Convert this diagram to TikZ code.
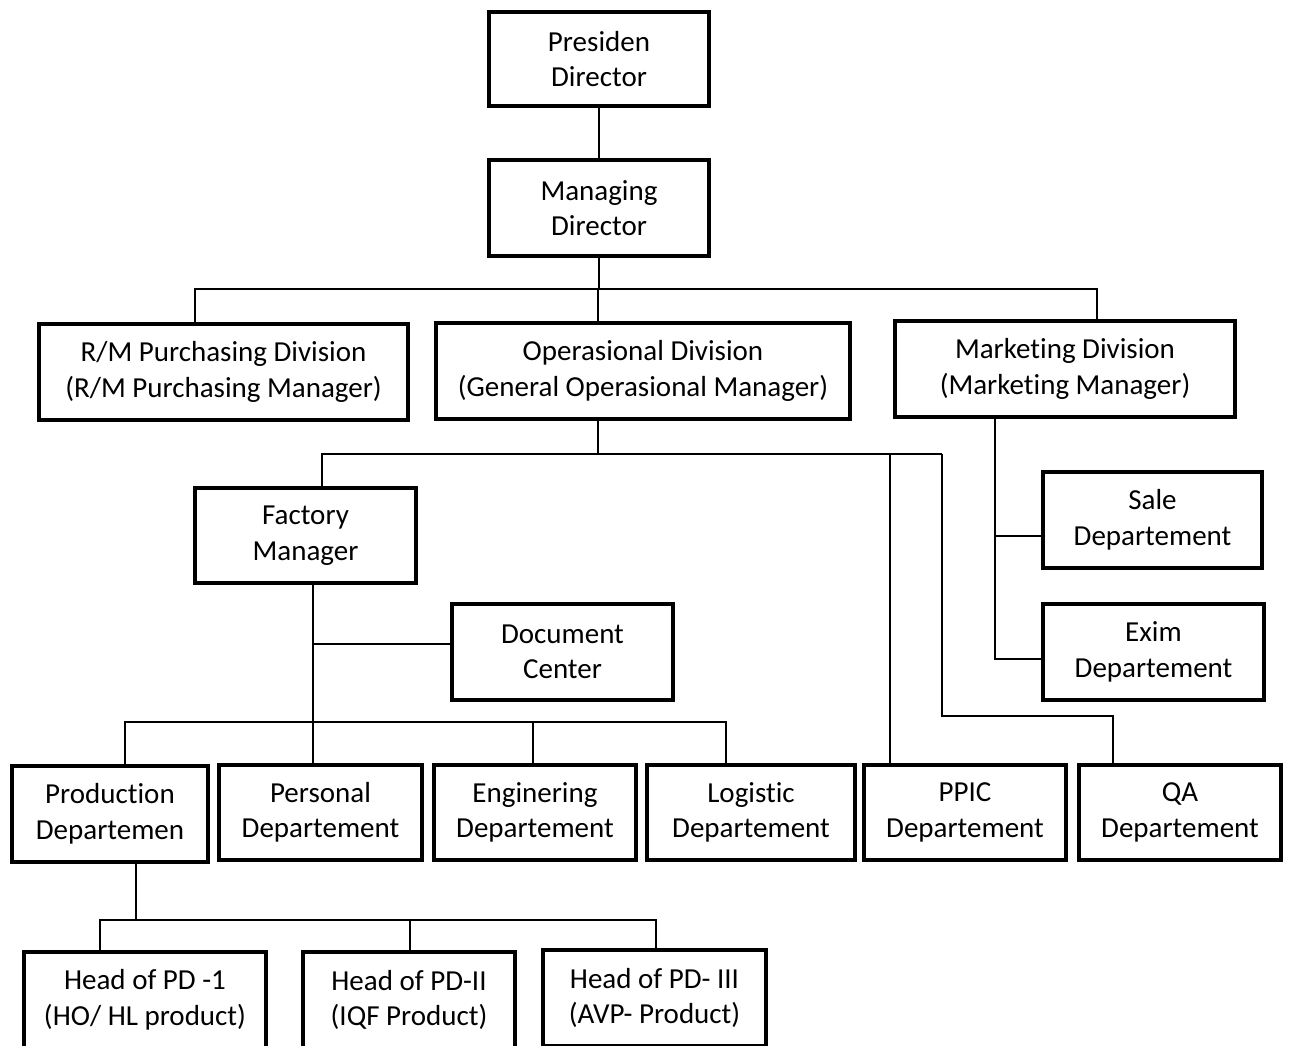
\documentclass[tikz,border=0pt]{standalone}
\usepackage{fontspec}
\setmainfont{Carlito}[Ligatures={NoCommon,NoContextual}]
\begin{document}
\begin{tikzpicture}[x=1pt,y=-1pt,
  box/.style={draw=black,line width=3.8pt,fill=white,align=center,inner sep=0pt,
    font=\fontsize{29}{35.5}\selectfont},
  conn/.style={line width=1.6pt,draw=black}]
\useasboundingbox (0,0) rectangle (1291,1046);
\clip (0,0) rectangle (1291,1046);
% boxes
\node[box,minimum width=220,minimum height=94] (pres) at (599,59) {Presiden\\Director};
\node[box,minimum width=220,minimum height=96] (mgr) at (599,208) {Managing\\Director};
\node[box,minimum width=369,minimum height=96] (rm) at (223.5,372) {R/M Purchasing Division\\(R/M Purchasing Manager)};
\node[box,minimum width=414,minimum height=96] (op) at (643,371) {Operasional Division\\(General Operasional Manager)};
\node[box,minimum width=340,minimum height=96] (mkt) at (1065,369) {Marketing Division\\(Marketing Manager)};
\node[box,minimum width=221,minimum height=95] (fac) at (305.5,535.5) {Factory\\Manager};
\node[box,minimum width=221,minimum height=96] (doc) at (562.5,652) {Document\\Center};
\node[box,minimum width=219,minimum height=96] (sale) at (1152.5,520) {Sale\\Departement};
\node[box,minimum width=221,minimum height=96] (exim) at (1153.5,652) {Exim\\Departement};
\node[box,minimum width=196,minimum height=96] (prod) at (110,814) {Production\\Departemen};
\node[box,minimum width=203,minimum height=95] (pers) at (320.5,812.5) {Personal\\Departement};
\node[box,minimum width=202,minimum height=95] (eng) at (535,812.5) {Enginering\\Departement};
\node[box,minimum width=208,minimum height=95] (log) at (751,812.5) {Logistic\\Departement};
\node[box,minimum width=202,minimum height=95] (ppic) at (965,812.5) {PPIC\\Departement};
\node[box,minimum width=202,minimum height=95] (qa) at (1180,812.5) {QA\\Departement};
\node[box,minimum width=242,minimum height=96] (h1) at (145,1000) {Head of PD -1\\(HO/ HL product)};
\node[box,minimum width=212,minimum height=96] (h2) at (409,1000) {Head of PD-II\\(IQF Product)};
\node[box,minimum width=223,minimum height=96] (h3) at (654.5,998) {Head of PD- III\\(AVP- Product)};
% connectors top
\draw[conn] (pres.south) -- (mgr.north);
\coordinate (b1) at (598,289);
\coordinate (rmTop) at ([xshift=-28.5pt]rm.north);
\coordinate (mkTop) at ([xshift=32pt]mkt.north);
\draw[conn] (rmTop) |- (b1) -| (mkTop);
\draw[conn] (mgr.south) -- (mgr.south |- b1);
\draw[conn] (b1) -- (b1 |- op.north);
% operasional bus
\coordinate (opBot) at ([xshift=-45pt]op.south);
\coordinate (b2) at (598,454);
\coordinate (b3) at (942,454);
\coordinate (b4) at (942,716);
\coordinate (facTop) at ([xshift=16.5pt]fac.north);
\coordinate (ppicTop) at ([xshift=-75pt]ppic.north);
\coordinate (qaTop) at ([xshift=-67pt]qa.north);
\draw[conn] (opBot) -- (b2);
\draw[conn] (facTop) |- (b3);
\draw[conn] (b3) -- (b4) -| (qaTop);
\draw[conn] (ppicTop) -- (ppicTop |- b2);
% marketing
\coordinate (mv) at ([xshift=-70pt]mkt.south);
\coordinate (saleIn) at ([yshift=-16pt]sale.west);
\coordinate (eximIn) at ([yshift=-7pt]exim.west);
\draw[conn] (mv) |- (eximIn);
\draw[conn] (saleIn) -- (mv |- saleIn);
% factory
\coordinate (fv) at ([xshift=7.5pt]fac.south);
\coordinate (docIn) at ([yshift=8pt]doc.west);
\coordinate (fb) at (313,722);
\coordinate (prodTop) at ([xshift=15pt]prod.north);
\coordinate (engTop) at ([xshift=-2pt]eng.north);
\coordinate (logTop) at ([xshift=-25pt]log.north);
\draw[conn] (fv) -- (fv |- pers.north);
\draw[conn] (docIn) -- (fv |- docIn);
\draw[conn] (prodTop) |- (fb) -| (logTop);
\draw[conn] (engTop) -- (engTop |- fb);
% production
\coordinate (pv) at ([xshift=26pt]prod.south);
\coordinate (pb) at (136,920);
\coordinate (h1Top) at ([xshift=-45pt]h1.north);
\coordinate (h2Top) at ([xshift=1pt]h2.north);
\coordinate (h3Top) at ([xshift=1.5pt]h3.north);
\draw[conn] (pv) -- (pb);
\draw[conn] (h1Top) |- (pb) -| (h3Top);
\draw[conn] (h2Top) -- (h2Top |- pb);
\end{tikzpicture}
\end{document}
